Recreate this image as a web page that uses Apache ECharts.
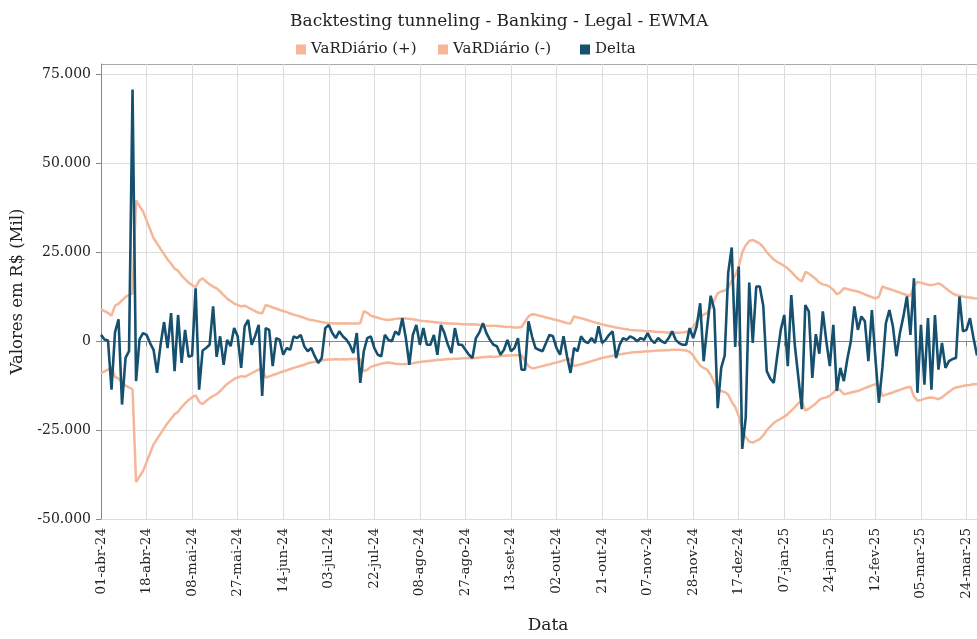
<!DOCTYPE html>
<html>
<head>
<meta charset="utf-8">
<script src="https://cdn.jsdelivr.net/npm/echarts@6/dist/echarts.min.js"></script>
<style>html,body{margin:0;padding:0;background:#fff}#c{width:977px;height:639px}</style>
</head>
<body>
<div id="c"></div>
<script>
// ---- data ----
const startDate = '2024-04-01';
const nDays = 251; // business days visible on the axis
const holidays = ['2024-05-01','2024-05-30','2024-11-15','2024-11-20','2024-12-25','2025-01-01','2025-03-03','2025-03-04'];
const monthsPt = ['jan','fev','mar','abr','mai','jun','jul','ago','set','out','nov','dez'];
const seriesNames = ['VaRDiário (+)', 'VaRDiário (-)', 'Delta'];

const varPos = [
9000,8500,8000,7200,10000,10500,11500,12500,13000,13500,
39600,38000,36500,34000,31500,29000,27500,26000,24500,23000,
21800,20500,19800,18500,17500,16500,15800,15200,17000,17700,
16800,16000,15400,14900,14000,13000,12000,11300,10600,10200,
9800,10000,9500,9000,8500,8000,7900,10200,9900,9500,
9200,8800,8500,8200,7800,7500,7200,6900,6600,6200,
6000,5800,5600,5400,5200,5100,5100,5000,5100,5000,
5100,5000,5000,5000,5100,8500,8000,7200,6900,6600,
6300,6100,6000,6100,6300,6400,6500,6400,6300,6200,
6000,5800,5700,5600,5500,5400,5300,5200,5100,5000,
5000,4900,4900,4800,4800,4700,4800,4700,4600,4500,
4400,4300,4400,4300,4200,4100,4000,4000,3900,3900,
4000,5500,7000,7600,7500,7200,7000,6700,6500,6200,
6000,5700,5400,5100,5000,7000,6700,6500,6200,5900,
5600,5300,5000,4700,4500,4300,4100,3900,3700,3500,
3400,3200,3100,3000,3000,2900,2800,2800,2700,2600,
2600,2500,2500,2400,2400,2400,2500,2600,3000,4000,
5500,6800,7500,8000,9500,11500,13500,14000,14300,15000,
17000,18500,21000,25000,27000,28200,28500,28000,27500,26500,
25000,24000,23000,22300,21800,21200,20500,19500,18500,17500,
16800,19500,19000,18300,17500,16500,16000,15800,15300,14500,
13200,13800,14900,14700,14400,14200,14000,13600,13200,12800,
12400,12100,12500,15400,15000,14700,14400,14000,13700,13300,
13000,12800,15500,16700,16500,16200,15900,15800,16000,16300,
15800,15000,14200,13500,13000,12800,12600,12400,12300,12100,
12000
];
const varNeg = [
-9000,-8500,-8000,-7200,-10000,-10500,-11500,-12500,-13000,-13500,
-39600,-38000,-36500,-34000,-31500,-29000,-27500,-26000,-24500,-23000,
-21800,-20500,-19800,-18500,-17500,-16500,-15800,-15200,-17000,-17700,
-16800,-16000,-15400,-14900,-14000,-13000,-12000,-11300,-10600,-10200,
-9800,-10000,-9500,-9000,-8500,-8000,-7900,-10200,-9900,-9500,
-9200,-8800,-8500,-8200,-7800,-7500,-7200,-6900,-6600,-6200,
-6000,-5800,-5600,-5400,-5200,-5100,-5100,-5000,-5100,-5000,
-5100,-5000,-5000,-5000,-5100,-8500,-8000,-7200,-6900,-6600,
-6300,-6100,-6000,-6100,-6300,-6400,-6500,-6400,-6300,-6200,
-6000,-5800,-5700,-5600,-5500,-5400,-5300,-5200,-5100,-5000,
-5000,-4900,-4900,-4800,-4800,-4700,-4800,-4700,-4600,-4500,
-4400,-4300,-4400,-4300,-4200,-4100,-4000,-4000,-3900,-3900,
-4000,-5500,-7000,-7600,-7500,-7200,-7000,-6700,-6500,-6200,
-6000,-5700,-5400,-5100,-5000,-7000,-6700,-6500,-6200,-5900,
-5600,-5300,-5000,-4700,-4500,-4300,-4100,-3900,-3700,-3500,
-3400,-3200,-3100,-3000,-3000,-2900,-2800,-2800,-2700,-2600,
-2600,-2500,-2500,-2400,-2400,-2400,-2500,-2600,-3000,-4000,
-5500,-6800,-7500,-8000,-9500,-11500,-13500,-14000,-14300,-15000,
-17000,-18500,-21000,-25000,-27000,-28200,-28500,-28000,-27500,-26500,
-25000,-24000,-23000,-22300,-21800,-21200,-20500,-19500,-18500,-17500,
-16800,-19500,-19000,-18300,-17500,-16500,-16000,-15800,-15300,-14500,
-13200,-13800,-14900,-14700,-14400,-14200,-14000,-13600,-13200,-12800,
-12400,-12100,-12500,-15400,-15000,-14700,-14400,-14000,-13700,-13300,
-13000,-12800,-15500,-16700,-16500,-16200,-15900,-15800,-16000,-16300,
-15800,-15000,-14200,-13500,-13000,-12800,-12600,-12400,-12300,-12100,
-12000
];
const delta = [
1800,500,200,-13600,2500,6200,-17800,-4700,-2800,70800,
-11200,500,2300,1800,-500,-2400,-8900,-1000,5400,-1900,
7900,-8400,7400,-6100,3200,-4400,-4000,14900,-13600,-2600,
-1900,-1000,9800,-4400,1400,-6600,400,-1400,3700,1400,
-7500,4200,6000,-1000,1500,4600,-15400,3700,3200,-7000,
900,400,-3800,-1900,-2400,1400,900,1800,-1400,-2800,
-1900,-4200,-6100,-4700,3700,4600,2300,900,2800,1400,
500,-1000,-3300,2300,-11700,-2800,900,1400,-1900,-3800,
-4200,1800,400,0,2800,1800,6500,900,-6600,1800,
4600,-1000,3700,-1000,-1000,1800,-3800,4600,2300,-1000,
-3300,3700,-1000,-1000,-2400,-3800,-4700,900,2500,5100,
2300,400,-1000,-1400,-3800,-2400,400,-2800,-1900,900,
-8000,-8000,5600,1400,-1900,-2400,-2800,-500,1800,1400,
-1900,-3800,1400,-4200,-8900,-1900,-2800,1400,0,-500,
900,-500,4200,-500,400,1800,2800,-4700,-1000,900,
400,1400,900,0,900,400,2300,400,-500,900,
0,-500,900,2800,400,-500,-1000,-1000,3700,900,
4200,10700,-5600,4000,12800,9000,-18800,-7500,-4000,19300,
26400,-1600,21000,-30300,-21500,16500,-500,15400,15400,10000,
-8400,-10500,-11700,-4000,3200,7400,-7000,13000,-1000,-10000,
-19100,10200,8400,-10300,2000,-3500,8400,0,-7000,4600,
-14000,-7500,-11200,-5000,0,9800,3200,7000,5600,-5600,
8800,-4700,-17300,-7500,5100,8800,4200,-4200,2300,7000,
12600,1800,17700,-14500,4600,-12200,6500,-13600,7400,-8000,
-500,-7500,-5600,-5000,-4700,12600,2800,3200,6500,900,
-4000
];
const yTicks = { min: -50000, max: 78000, step: 25000 };

// ---- categories (Brazilian business days) ----
function pad(n){ return (n < 10 ? '0' : '') + n; }
const categories = [];
(function(){
  const d = new Date(startDate + 'T00:00:00Z');
  while (categories.length < nDays) {
    const iso = d.getUTCFullYear() + '-' + pad(d.getUTCMonth()+1) + '-' + pad(d.getUTCDate());
    const wd = d.getUTCDay();
    if (wd !== 0 && wd !== 6 && holidays.indexOf(iso) < 0) {
      categories.push(pad(d.getUTCDate()) + '-' + monthsPt[d.getUTCMonth()] + '-' + String(d.getUTCFullYear()).slice(2));
    }
    d.setUTCDate(d.getUTCDate() + 1);
  }
})();

function fmt(v){
  const s = String(Math.abs(Math.round(v))).replace(/\B(?=(\d{3})+(?!\d))/g, '.');
  return (v < 0 ? '-' : '') + s;
}

const FONT = 'DejaVu Serif';
const PINK = '#f5b797';
const BLUE = '#15506f';
const legendBase = {
  top: 37, icon: 'rect', itemWidth: 10, itemHeight: 10,
  textStyle: { fontFamily: FONT, fontSize: 15, color: '#222' }
};
const legendLefts = [291, 433, 575];

const chart = echarts.init(document.getElementById('c'), null, {renderer: 'canvas'});
chart.setOption({
  animation: false,
  backgroundColor: '#ffffff',
  title: {
    text: 'Backtesting tunneling - Banking - Legal - EWMA',
    left: 285, top: 8,
    textStyle: { fontFamily: FONT, fontSize: 17, fontWeight: 'normal', color: '#222' }
  },
  legend: seriesNames.map((n, k) => Object.assign({}, legendBase, { data: [n], left: legendLefts[k] })),
  grid: { left: 101, right: 0, top: 64, bottom: 117, containLabel: false },
  xAxis: {
    type: 'category',
    data: categories,
    boundaryGap: false,
    name: 'Data', nameLocation: 'middle', nameGap: 98,
    nameTextStyle: { fontFamily: FONT, fontSize: 17, color: '#222', padding: [0, 0, 0, 18] },
    axisLine: { lineStyle: { color: '#888', width: 1 } },
    axisTick: { show: true, interval: 12, length: 5, lineStyle: { color: '#888' } },
    axisLabel: { interval: 12, rotate: 90, margin: 9, fontFamily: FONT, fontSize: 13.5, color: '#222' },
    splitLine: { show: true, interval: 12, lineStyle: { color: '#dddddd', width: 1 } }
  },
  yAxis: {
    type: 'value',
    min: yTicks.min, max: yTicks.max, interval: yTicks.step,
    name: 'Valores em R$ (Mil)', nameLocation: 'middle', nameGap: 67,
    nameTextStyle: { fontFamily: FONT, fontSize: 16.5, color: '#222' },
    axisLine: { show: true, lineStyle: { color: '#888', width: 1 } },
    axisTick: { show: true, length: 5, lineStyle: { color: '#888' } },
    axisLabel: { margin: 10, showMaxLabel: false, fontFamily: FONT, fontSize: 14, color: '#222', formatter: fmt },
    splitLine: { show: true, lineStyle: { color: ['#dddddd','#dddddd','#999999','#dddddd','#dddddd','#dddddd','#aaaaaa'], width: 1 } }
  },
  series: [
    { name: seriesNames[0], type: 'line', data: varPos, showSymbol: false, symbol: 'none',
      lineStyle: { color: PINK, width: 2.5 }, itemStyle: { color: PINK }, z: 2 },
    { name: seriesNames[1], type: 'line', data: varNeg, showSymbol: false, symbol: 'none',
      lineStyle: { color: PINK, width: 2.5 }, itemStyle: { color: PINK }, z: 2 },
    { name: seriesNames[2], type: 'line', data: delta, showSymbol: false, symbol: 'none',
      lineStyle: { color: BLUE, width: 2.6 }, itemStyle: { color: BLUE }, z: 3 }
  ]
});
</script>
</body>
</html>
